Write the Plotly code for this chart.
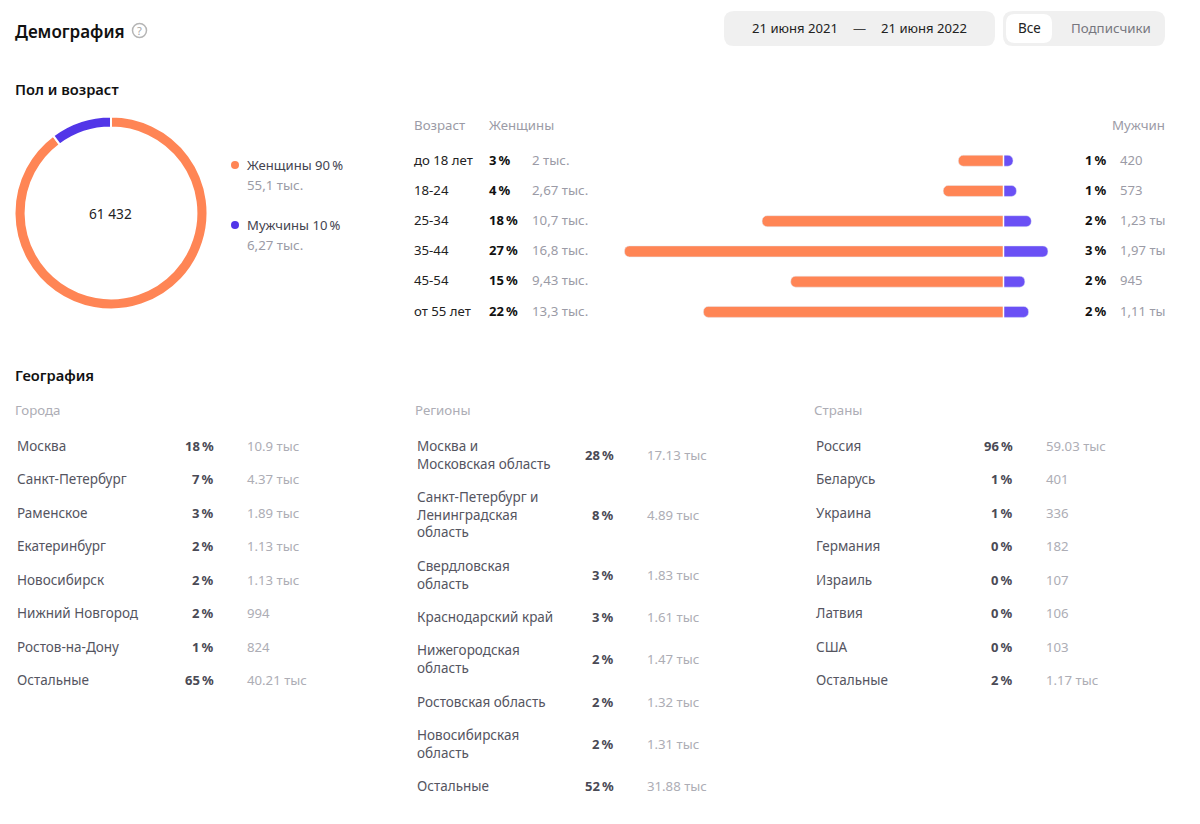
import plotly.graph_objects as go

W, H = 1200, 824
FONT = "Noto Sans"

# donut
gender_names = ["Женщины", "Мужчины"]
gender_values = [55.1, 6.27]
gender_pct = ["90\u2009%", "10\u2009%"]
gender_counts = ["55,1 тыс.", "6,27 тыс."]
total_label = "61 432"

# age table, bar values in thousands
age_groups = ["до 18 лет", "18-24", "25-34", "35-44", "45-54", "от 55 лет"]
women_values = [2, 2.67, 10.7, 16.8, 9.43, 13.3]
men_values = [0.42, 0.573, 1.23, 1.97, 0.945, 1.11]
women_pct = ["3\u2009%", "4\u2009%", "18\u2009%", "27\u2009%", "15\u2009%", "22\u2009%"]
men_pct = ["1\u2009%", "1\u2009%", "2\u2009%", "3\u2009%", "2\u2009%", "2\u2009%"]
women_counts = ["2 тыс.", "2,67 тыс.", "10,7 тыс.", "16,8 тыс.", "9,43 тыс.", "13,3 тыс."]
men_counts = ["420", "573", "1,23 ты", "1,97 ты", "945", "1,11 ты"]

# geography
cities = ["Москва", "Санкт-Петербург", "Раменское", "Екатеринбург", "Новосибирск",
          "Нижний Новгород", "Ростов-на-Дону", "Остальные"]
cities_pct = ["18\u2009%", "7\u2009%", "3\u2009%", "2\u2009%", "2\u2009%", "2\u2009%", "1\u2009%", "65\u2009%"]
cities_counts = ["10.9 тыс", "4.37 тыс", "1.89 тыс", "1.13 тыс", "1.13 тыс", "994", "824", "40.21 тыс"]

regions = ["Москва и<br>Московская область", "Санкт-Петербург и<br>Ленинградская<br>область",
           "Свердловская<br>область", "Краснодарский край", "Нижегородская<br>область",
           "Ростовская область", "Новосибирская<br>область", "Остальные"]
regions_pct = ["28\u2009%", "8\u2009%", "3\u2009%", "3\u2009%", "2\u2009%", "2\u2009%", "2\u2009%", "52\u2009%"]
regions_counts = ["17.13 тыс", "4.89 тыс", "1.83 тыс", "1.61 тыс", "1.47 тыс", "1.32 тыс", "1.31 тыс", "31.88 тыс"]

countries = ["Россия", "Беларусь", "Украина", "Германия", "Израиль", "Латвия", "США", "Остальные"]
countries_pct = ["96\u2009%", "1\u2009%", "1\u2009%", "0\u2009%", "0\u2009%", "0\u2009%", "0\u2009%", "2\u2009%"]
countries_counts = ["59.03 тыс", "401", "336", "182", "107", "106", "103", "1.17 тыс"]

ORANGE = "#ff8555"
PURPLE_RING = "#5236e8"
PURPLE_BAR = "#6a50f5"
PILL = "#f0f0f0"
GREY = "#9b9ba6"
GEO_TEXT = "#55555f"
GEO_GREY = "#adadb5"


def px_x(x):
    return x / W


def px_y(y):
    return 1 - y / H


annotations = []


def text(x, y, s, size=14, color="#222222", anchor="left", weight=None):
    annotations.append(dict(
        x=px_x(x), y=px_y(y), xref="paper", yref="paper", text=s, showarrow=False,
        xanchor=anchor, yanchor="middle", align=anchor, borderpad=0, borderwidth=0,
        font=dict(family=FONT, size=size, color=color, weight=weight),
    ))


def rounded(x0, y0, x1, y1, r, fill):
    # rounded rectangle as a paper-referenced path
    pts = [("M", x0 + r, y0), ("L", x1 - r, y0), ("Q", x1, y0, x1, y0 + r), ("L", x1, y1 - r),
           ("Q", x1, y1, x1 - r, y1), ("L", x0 + r, y1), ("Q", x0, y1, x0, y1 - r),
           ("L", x0, y0 + r), ("Q", x0, y0, x0 + r, y0)]
    path = ""
    for p in pts:
        if p[0] == "Q":
            path += f"Q{px_x(p[1])},{px_y(p[2])} {px_x(p[3])},{px_y(p[4])} "
        else:
            path += f"{p[0]}{px_x(p[1])},{px_y(p[2])} "
    return dict(type="path", xref="paper", yref="paper", path=path + "Z",
                fillcolor=fill, line=dict(width=0), layer="below")


def dot(cx, cy, r, fill, line_color=None):
    return dict(type="circle", xref="paper", yref="paper",
                x0=px_x(cx - r), x1=px_x(cx + r), y0=px_y(cy + r), y1=px_y(cy - r),
                fillcolor=fill, line=dict(width=1.5 if line_color else 0, color=line_color))


fig = go.Figure()

# donut
fig.add_trace(go.Pie(
    labels=gender_names, values=gender_values, hole=0.885, sort=False, direction="clockwise",
    rotation=0, textinfo="none", showlegend=False,
    marker=dict(colors=[ORANGE, PURPLE_RING], line=dict(color="white", width=2)),
    domain=dict(x=[px_x(14.5), px_x(207.5)], y=[px_y(309.5), px_y(116.5)]),
))

# butterfly bars, women go left of zero
fig.add_trace(go.Bar(y=age_groups, x=[-v for v in women_values], orientation="h", name="Женщины",
                     marker=dict(color=ORANGE, cornerradius=5), showlegend=False))
fig.add_trace(go.Bar(y=age_groups, x=men_values, orientation="h", name="Мужчины",
                     marker=dict(color=PURPLE_BAR, cornerradius=3), showlegend=False))

BAR_ZERO, BAR_SCALE = 1003.5, 22.56
BAR_LEFT, BAR_RIGHT = 600, 1060

shapes = [
    rounded(724, 11, 995, 46, 10, PILL),
    rounded(1003, 11, 1165, 46, 10, PILL),
    rounded(1006, 14, 1052, 43, 9, "white"),
    dot(139.5, 30.5, 7, "white", "#b5b5b5"),
    dot(235, 165, 4, ORANGE),
    dot(235, 225, 4, PURPLE_RING),
    dict(type="line", xref="x", yref="paper", x0=0, x1=0, y0=px_y(327), y1=px_y(145),
         line=dict(color="white", width=1.5)),
]

# header
text(15, 31, "Демография", size=17, color="#111111", weight=600)
text(139.5, 30.5, "?", size=11, color="#a5a5a5", anchor="center")
text(752, 28, "21 июня 2021", size=13.1, color="#222222")
text(859, 28, "—", size=13.1, color="#444444", anchor="center")
text(881, 28, "21 июня 2022", size=13.1, color="#222222")
text(1029, 28, "Все", size=13.5, color="#222222", anchor="center")
text(1110.5, 28, "Подписчики", size=13.3, color="#77777f", anchor="center")

# gender and age
text(15, 89.5, "Пол и возраст", size=14.7, color="#111111", weight=600)
text(110.5, 213.5, total_label, size=13.7, color="#222222", anchor="center")
for i in range(2):
    y = 165 + 60 * i
    text(247, y, f"{gender_names[i]} {gender_pct[i]}", size=13.1, color="#444450")
    text(247, y + 20, gender_counts[i], size=13.3, color=GREY)

text(414, 125, "Возраст", size=13.3, color=GREY)
text(489, 125, "Женщины", size=13.2, color=GREY)
text(1165, 125, "Мужчин", size=13.3, color=GREY, anchor="right")
row_ys = [160, 190, 220, 250, 280, 311]
for i, age in enumerate(age_groups):
    y = row_ys[i]
    text(414, y, age, size=13.2)
    text(489, y, women_pct[i], size=13, color="#111111", weight=700)
    text(532, y, women_counts[i], size=13.3, color=GREY)
    text(1085, y, men_pct[i], size=13, color="#111111", weight=700)
    text(1120, y, men_counts[i], size=13.1, color=GREY)

# geography
text(15, 374.5, "География", size=14.7, color="#111111", weight=600)


def geo_column(x, title, names, pcts, counts):
    text(x - 1, 410, title, size=13.3, color=GEO_GREY)
    top = 429
    for name, pct, count in zip(names, pcts, counts):
        lines = name.count("<br>") + 1
        height = 15.8 + 17.7 * lines
        y = top + height / 2
        text(x + 1, y, name, size=13.5, color=GEO_TEXT)
        text(x + 198, y, pct, size=13, color="#4a4a55", anchor="right", weight=700)
        text(x + 231, y, count, size=13.2, color=GEO_GREY)
        top += height


geo_column(16, "Города", cities, cities_pct, cities_counts)
geo_column(416, "Регионы", regions, regions_pct, regions_counts)
geo_column(815, "Страны", countries, countries_pct, countries_counts)

fig.update_layout(
    width=W, height=H, margin=dict(l=0, r=0, t=0, b=0),
    paper_bgcolor="white", plot_bgcolor="white", font=dict(family=FONT),
    barmode="relative", bargap=0.636,
    shapes=shapes, annotations=annotations,
    xaxis=dict(domain=[px_x(BAR_LEFT), px_x(BAR_RIGHT)],
               range=[(BAR_LEFT - BAR_ZERO) / BAR_SCALE, (BAR_RIGHT - BAR_ZERO) / BAR_SCALE],
               visible=False, fixedrange=True),
    yaxis=dict(domain=[px_y(327), px_y(145.6)], autorange="reversed", visible=False, fixedrange=True),
)

fig.write_html("out.html", post_script="document.body.style.margin='0';", config=dict(displayModeBar=False))
